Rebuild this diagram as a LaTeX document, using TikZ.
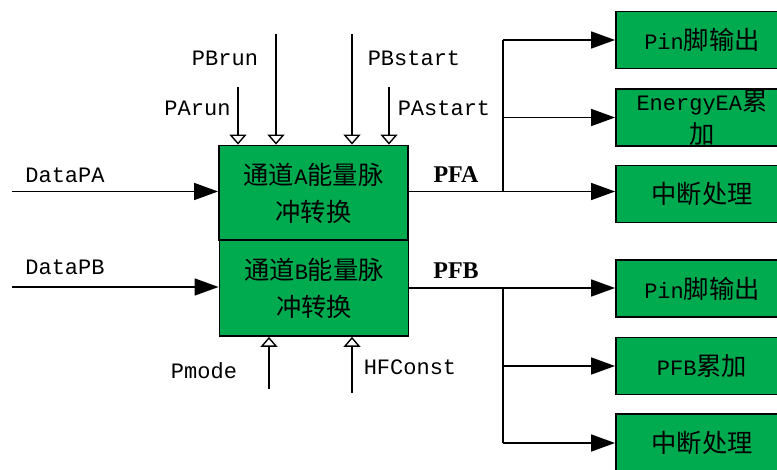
\documentclass[tikz,border=0pt]{standalone}
\usepackage{fontspec}
\setmainfont{Liberation Mono}
\newfontfamily\cjk[Scale=1.15]{Noto Sans CJK SC}
\newfontfamily\pffont{Liberation Serif}
\usetikzlibrary{positioning}
\usetikzlibrary{arrows.meta}
\definecolor{boxgreen}{RGB}{0,170,79}

\begin{document}
\begin{tikzpicture}[x=1pt,y=-1pt,
chbox/.style={draw,line width=1.8pt,fill=boxgreen,minimum width=189pt,
  minimum height=95pt,align=center,inner sep=0pt,font=\fontsize{22}{37}\selectfont},
outbox/.style={draw,line width=1.8pt,fill=boxgreen,minimum width=172pt,
  minimum height=57pt,align=center,inner sep=0pt,font=\fontsize{22}{33}\selectfont},
lbl/.style={inner sep=0pt,font=\fontsize{22}{26}\selectfont},
pflbl/.style={inner sep=0pt,font=\pffont\bfseries\fontsize{24}{26}\selectfont},
wire/.style={line width=1.5pt},
sig/.style={line width=1.5pt,-{Triangle[length=24pt,width=17pt]}},
ctl/.style={line width=1.5pt,-{Triangle[open,length=10pt,width=17pt,line width=1.4pt]}}]
\useasboundingbox (0,0) rectangle (777,470);
\clip (0,0) rectangle (777,470);

\node[chbox] (chA) at (313.5,193) {{\cjk 通道}A{\cjk 能量脉}\\{\cjk 冲转换}};
\node[chbox, minimum height=96pt] (chB) at (314,288) {{\cjk 通道}B{\cjk 能量脉}\\{\cjk 冲转换}};

\node[outbox] (pinA) at (702,40) {Pin{\cjk 脚输出}};
\node[outbox] (engA) at (702,117.5) {EnergyEA{\cjk 累}\\{\cjk 加}};
\node[outbox] (intA) at (702,194) {{\cjk 中断处理}};
\node[outbox] (pinB) at (702,288.5) {Pin{\cjk 脚输出}};
\node[outbox] (engB) at (702,366) {PFB{\cjk 累加}};
\node[outbox, minimum height=58pt] (intB) at (702,443) {{\cjk 中断处理}};

\node[lbl] (lpbrun) at (225,58) {PBrun};
\node[lbl] (lparun) at (197.5,108) {PArun};
\node[lbl] (lpbstart) at (414,58) {PBstart};
\node[lbl] (lpastart) at (444,108) {PAstart};
\node[lbl] (ldpa) at (65,175) {DataPA};
\node[lbl] (ldpb) at (65,267) {DataPB};
\node[lbl] (lpmode) at (204,371) {Pmode};
\node[lbl] (lhfc) at (410,367) {HFConst};
\node[pflbl] (lpfa) at (456,175) {PFA};
\node[pflbl] (lpfb) at (456,271) {PFB};

\coordinate (parun) at (238,87);
\coordinate (pbrun) at (276,34);
\coordinate (pbstart) at (352,34);
\coordinate (pastart) at (389,87);
\coordinate (pmode) at (269,389);
\coordinate (hfc) at (352,393);
\coordinate (dpa) at (12,191.5);
\coordinate (dpb) at (12,287);
\coordinate (ja) at (503,191.5);
\coordinate (jb) at (503,288);

\draw[ctl] (parun) -- (parun |- chA.north);
\draw[ctl] (pbrun) -- (pbrun |- chA.north);
\draw[ctl] (pbstart) -- (pbstart |- chA.north);
\draw[ctl] (pastart) -- (pastart |- chA.north);
\draw[ctl] (pmode) -- (pmode |- chB.south);
\draw[ctl] (hfc) -- (hfc |- chB.south);

\draw[sig] (dpa) -- (dpa -| chA.west);
\draw[sig] (dpb) -- (dpb -| chB.west);

\draw[wire] (ja -| chA.east) -- (ja) -- (ja |- pinA);
\draw[sig] (ja |- pinA) -- (pinA.west);
\draw[sig] (ja |- engA) -- (engA.west);
\draw[sig] (ja) -- (ja -| intA.west);

\draw[wire] (jb -| chB.east) -- (jb) -- (jb |- intB);
\draw[sig] (jb) -- (jb -| pinB.west);
\draw[sig] (jb |- engB) -- (engB.west);
\draw[sig] (jb |- intB) -- (intB.west);
\end{tikzpicture}
\end{document}
